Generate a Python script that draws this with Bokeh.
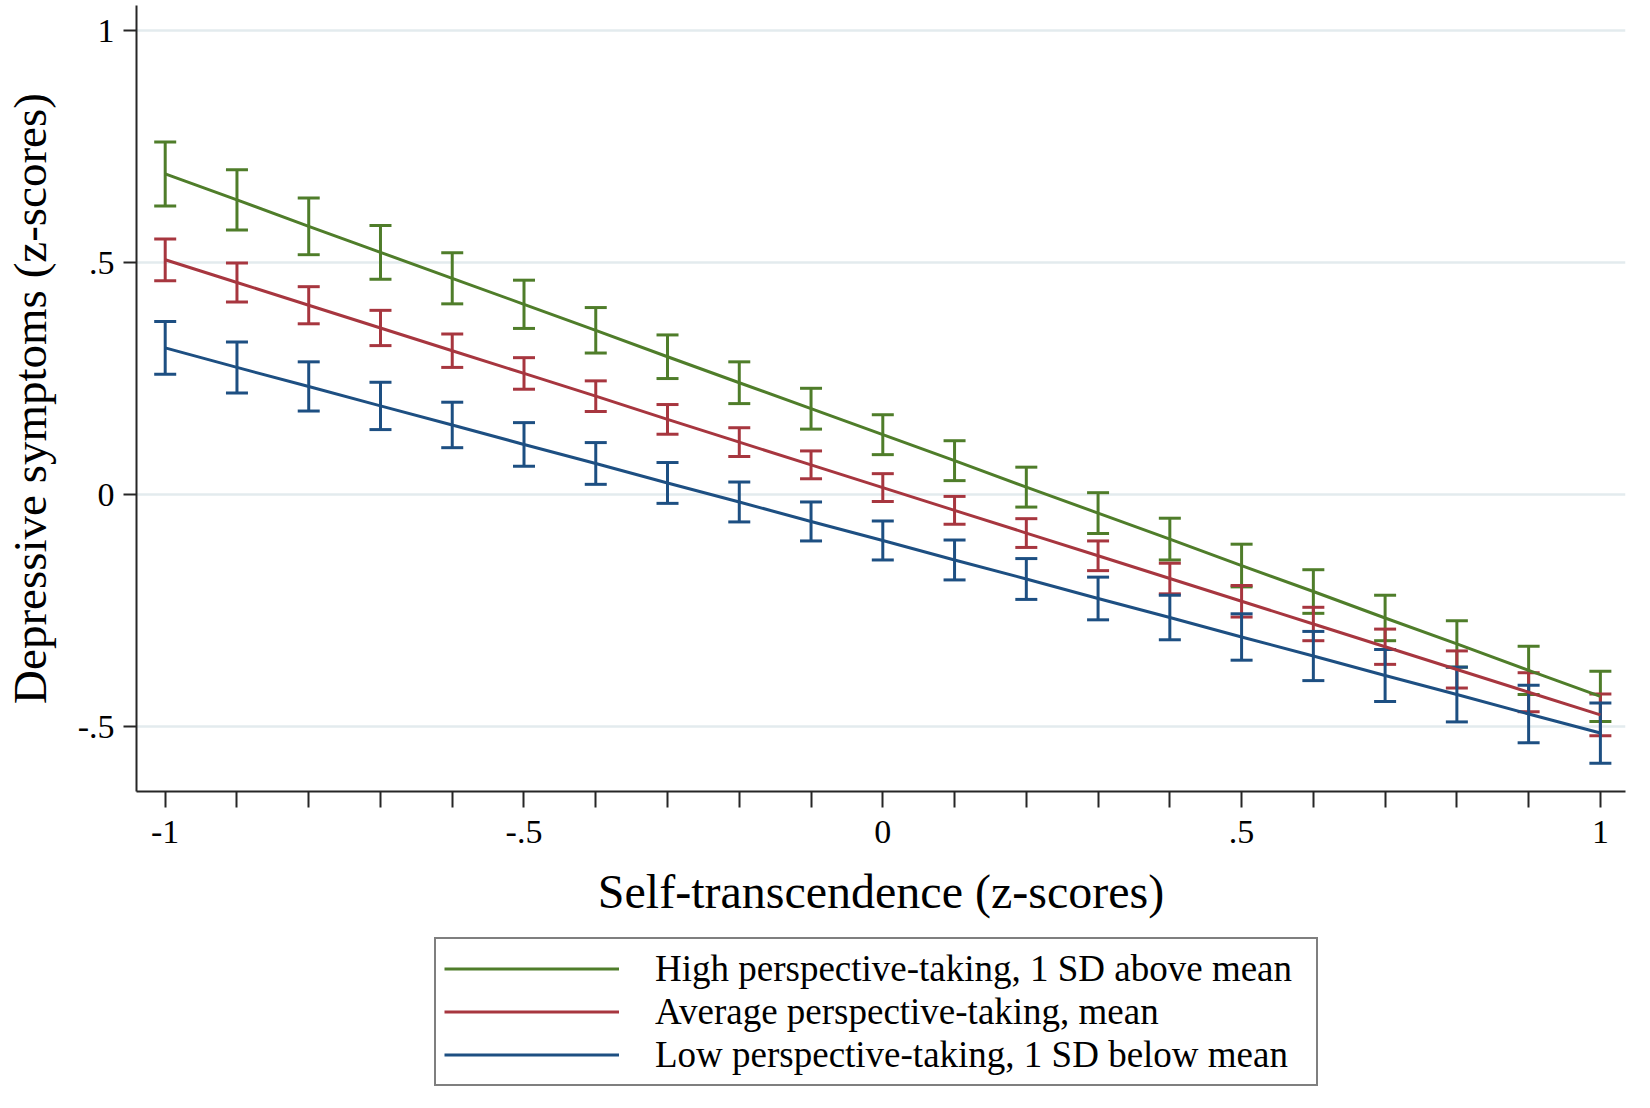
from bokeh.plotting import figure
from bokeh.layouts import column
from bokeh.models import (ColumnDataSource, Whisker, TeeHead, FixedTicker,
                          Legend, LegendItem, Range1d)
from bokeh.embed import file_html
from bokeh.resources import INLINE

# ---------------- data ----------------
x_vals = [-1.0, -0.9, -0.8, -0.7, -0.6, -0.5, -0.4, -0.3, -0.2, -0.1, 0.0,
          0.1, 0.2, 0.3, 0.4, 0.5, 0.6, 0.7, 0.8, 0.9, 1.0]

high_mean = [0.691, 0.635, 0.578, 0.522, 0.466, 0.410, 0.354, 0.297, 0.241, 0.185, 0.129,
             0.073, 0.016, -0.040, -0.096, -0.153, -0.209, -0.266, -0.322, -0.379, -0.435]
high_ci = [0.069, 0.065, 0.061, 0.058, 0.055, 0.052, 0.049, 0.047, 0.045, 0.044, 0.043,
           0.043, 0.043, 0.044, 0.045, 0.046, 0.047, 0.049, 0.050, 0.052, 0.054]

avg_mean = [0.506, 0.457, 0.408, 0.359, 0.310, 0.261, 0.212, 0.162, 0.113, 0.064, 0.015,
            -0.034, -0.083, -0.132, -0.181, -0.230, -0.279, -0.328, -0.377, -0.426, -0.475]
avg_ci = [0.045, 0.042, 0.040, 0.038, 0.036, 0.034, 0.033, 0.032, 0.031, 0.030, 0.030,
          0.030, 0.031, 0.032, 0.033, 0.034, 0.036, 0.038, 0.040, 0.042, 0.045]

low_mean = [0.316, 0.274, 0.233, 0.191, 0.150, 0.108, 0.067, 0.025, -0.016, -0.058, -0.099,
            -0.141, -0.182, -0.224, -0.265, -0.307, -0.348, -0.390, -0.431, -0.473, -0.514]
low_ci = [0.057, 0.055, 0.053, 0.051, 0.049, 0.047, 0.045, 0.044, 0.043, 0.042, 0.042,
          0.043, 0.044, 0.046, 0.048, 0.050, 0.053, 0.056, 0.059, 0.062, 0.065]

series_labels = ["High perspective-taking, 1 SD above mean",
                 "Average perspective-taking, mean",
                 "Low perspective-taking, 1 SD below mean"]
series_colors = ["#4f7d2a", "#a7363f", "#1d4f82"]

x_major_ticks = [-1, -0.5, 0, 0.5, 1]
x_minor_ticks = [-0.9, -0.8, -0.7, -0.6, -0.4, -0.3, -0.2, -0.1,
                 0.1, 0.2, 0.3, 0.4, 0.6, 0.7, 0.8, 0.9]
x_tick_labels = {-1: "-1", -0.5: "-.5", 0: "0", 0.5: ".5", 1: "1"}
y_ticks = [-0.5, 0, 0.5, 1]
y_tick_labels = {-0.5: "-.5", 0: "0", 0.5: ".5", 1: "1"}

x_title = "Self-transcendence (z-scores)"
y_title = "Depressive symptoms (z-scores)"

FONT = "Liberation Serif"
AXIS_COLOR = "#262626"

# ---------------- main figure ----------------
p = figure(width=1642, height=936,
           x_range=Range1d(-1.040, 1.035), y_range=Range1d(-0.640, 1.054),
           output_backend="svg", toolbar_location=None,
           min_border_left=135, min_border_right=17,
           min_border_top=5, min_border_bottom=145)
p.outline_line_color = None
p.background_fill_color = "white"
p.border_fill_color = "white"

series = [(high_mean, high_ci), (avg_mean, avg_ci), (low_mean, low_ci)]
sources = []
for (means, cis), color in zip(series, series_colors):
    src = ColumnDataSource(dict(
        x=x_vals, y=means,
        lower=[m - c for m, c in zip(means, cis)],
        upper=[m + c for m, c in zip(means, cis)]))
    sources.append(src)
    p.line("x", "y", source=src, line_color=color, line_width=3)
    w = Whisker(source=src, base="x", lower="lower", upper="upper",
                line_color=color, line_width=3,
                upper_head=TeeHead(size=22, line_color=color, line_width=3),
                lower_head=TeeHead(size=22, line_color=color, line_width=3))
    p.add_layout(w)

# ---------------- axes ----------------
xa = p.xaxis[0]
xa.ticker = FixedTicker(ticks=x_major_ticks, minor_ticks=x_minor_ticks)
xa.major_label_overrides = x_tick_labels
xa.axis_label = x_title
xa.axis_label_text_font = FONT
xa.axis_label_text_font_size = "48px"
xa.axis_label_text_font_style = "normal"
xa.axis_label_text_color = "black"
xa.axis_label_standoff = 19
xa.major_label_text_font = FONT
xa.major_label_text_font_size = "34px"
xa.major_label_text_color = "black"
xa.major_label_standoff = 13
xa.major_tick_out = 16
xa.major_tick_in = 0
xa.minor_tick_out = 16
xa.minor_tick_in = 0
xa.major_tick_line_width = 2
xa.minor_tick_line_width = 2
xa.major_tick_line_color = AXIS_COLOR
xa.minor_tick_line_color = AXIS_COLOR
xa.axis_line_width = 2
xa.axis_line_color = AXIS_COLOR

ya = p.yaxis[0]
ya.ticker = FixedTicker(ticks=y_ticks, minor_ticks=[])
ya.major_label_overrides = y_tick_labels
ya.major_label_orientation = "horizontal"
ya.axis_label = y_title
ya.axis_label_text_font = FONT
ya.axis_label_text_font_size = "47px"
ya.axis_label_text_font_style = "normal"
ya.axis_label_text_color = "black"
ya.axis_label_standoff = 19
ya.major_label_text_font = FONT
ya.major_label_text_font_size = "34px"
ya.major_label_text_color = "black"
ya.major_label_standoff = 9
ya.major_tick_out = 13
ya.major_tick_in = 0
ya.major_tick_line_width = 2
ya.major_tick_line_color = AXIS_COLOR
ya.minor_tick_line_color = None
ya.axis_line_width = 2
ya.axis_line_color = AXIS_COLOR

p.xgrid.visible = False
p.ygrid.ticker = FixedTicker(ticks=y_ticks)
p.ygrid.grid_line_color = "#e3ebee"
p.ygrid.grid_line_width = 2.5

# ---------------- legend panel ----------------
# a strip below the plot that only holds the legend; its range is chosen so
# that the series drawn here (legend swatches) stay outside the view
lg = figure(width=1642, height=164, x_range=Range1d(5, 6), y_range=Range1d(5, 6),
            x_axis_type=None, y_axis_type=None,
            output_backend="svg", toolbar_location=None,
            min_border_left=135, min_border_right=17,
            min_border_top=0, min_border_bottom=0)
lg.outline_line_color = None
lg.background_fill_color = "white"
lg.border_fill_color = "white"

proxies = []
for src, color in zip(sources, series_colors):
    proxies.append(lg.line(x="x", y="y", source=src, line_color=color, line_width=3))

legend = Legend(
    items=[LegendItem(label=lab, renderers=[r])
           for lab, r in zip(series_labels, proxies)],
    location=(298, 14),
    orientation="vertical",
    label_text_font=FONT,
    label_text_font_size="37px",
    label_text_color="black",
    glyph_width=175, glyph_height=43,
    label_height=43, label_width=653, label_standoff=36,
    spacing=0, padding=8, margin=0,
    border_line_color="black", border_line_width=2,
    background_fill_color="white", background_fill_alpha=1.0,
)
lg.add_layout(legend)

layout = column(p, lg, spacing=0)
open("out.html", "w").write(file_html(layout, INLINE))
